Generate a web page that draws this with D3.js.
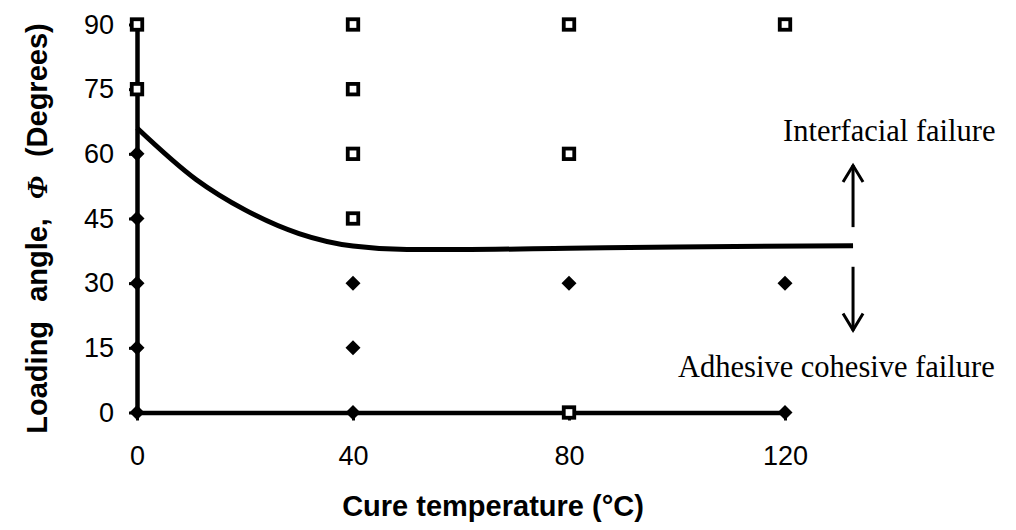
<!DOCTYPE html>
<html>
<head>
<meta charset="utf-8">
<script src="https://cdn.jsdelivr.net/npm/d3@7"></script>
<style>
  body { margin: 0; background: #fff; }
  svg { display: block; }
</style>
</head>
<body>
<div id="chart"></div>
<script>
// tick values
const xTicks = [0, 40, 80, 120];
const yTicks = [0, 15, 30, 45, 60, 75, 90];

// interfacial failure (open squares)
const interfacialTemp = [0, 0, 40, 40, 40, 40, 80, 80, 80, 120];
const interfacialAngle = [90, 75, 90, 75, 60, 45, 90, 60, 0, 90];

// adhesive cohesive failure (filled diamonds)
const cohesiveTemp = [0, 0, 0, 0, 0, 40, 40, 40, 80, 120, 120];
const cohesiveAngle = [60, 45, 30, 15, 0, 30, 15, 0, 30, 30, 0];

// transition boundary
const boundaryTemp = [0, 11, 20, 30, 40, 50, 60, 80, 100, 132.6];
const boundaryAngle = [66, 54, 47, 41.5, 38.6, 37.8, 37.8, 38.1, 38.4, 38.7];

function drawChart() {
  const width = 1016;
  const height = 530;

  const svg = d3
    .select("#chart")
    .append("svg")
    .attr("width", width)
    .attr("height", height);

  const x = d3.scaleLinear().domain([0, 120]).range([137, 785]);
  const y = d3.scaleLinear().domain([0, 90]).range([412.5, 24.5]);

  const tickFont = "'Liberation Sans', Arial, sans-serif";

  // y axis
  const yAxis = svg
    .append("g")
    .attr("transform", `translate(${x(0)},0)`)
    .call(
      d3.axisLeft(y).tickValues(yTicks).tickSize(8).tickSizeOuter(0).tickPadding(15)
    );

  // x axis
  const xAxis = svg
    .append("g")
    .attr("transform", `translate(0,${y(0)})`)
    .call(
      d3.axisBottom(x).tickValues(xTicks).tickSize(8).tickSizeOuter(0).tickPadding(25)
    );

  [xAxis, yAxis].forEach((g) => {
    g.select(".domain").attr("stroke", "#000").attr("stroke-width", 4.5);
    g.selectAll(".tick line").attr("stroke", "#000").attr("stroke-width", 3);
    g.selectAll(".tick text")
      .attr("fill", "#000")
      .style("font-family", tickFont)
      .style("font-size", "27px");
  });

  // boundary curve
  const line = d3
    .line()
    .x((d) => x(d[0]))
    .y((d) => y(d[1]))
    .curve(d3.curveMonotoneX);

  svg
    .append("path")
    .datum(boundaryTemp.map((t, i) => [t, boundaryAngle[i]]))
    .attr("fill", "none")
    .attr("stroke", "#000")
    .attr("stroke-width", 5)
    .attr("d", line);

  // diamonds
  svg
    .append("g")
    .selectAll("path")
    .data(cohesiveTemp.map((t, i) => [t, cohesiveAngle[i]]))
    .join("path")
    .attr("transform", (d) => `translate(${x(d[0])},${y(d[1])})`)
    .attr("d", "M0,-7.5L7.5,0L0,7.5L-7.5,0Z")
    .attr("fill", "#000");

  // squares
  svg
    .append("g")
    .selectAll("rect")
    .data(interfacialTemp.map((t, i) => [t, interfacialAngle[i]]))
    .join("rect")
    .attr("x", (d) => x(d[0]) - 5.25)
    .attr("y", (d) => y(d[1]) - 5.25)
    .attr("width", 10.5)
    .attr("height", 10.5)
    .attr("fill", "#fff")
    .attr("stroke", "#000")
    .attr("stroke-width", 3.8);

  // arrows
  const ax = x(132.6);
  const arrows = [
    { from: 43, to: 57.4 },
    { from: 33.8, to: 19 }
  ];
  arrows.forEach((a) => {
    const y0 = y(a.from);
    const y1 = y(a.to);
    const dir = y1 < y0 ? 1 : -1;
    svg
      .append("line")
      .attr("x1", ax)
      .attr("x2", ax)
      .attr("y1", y0)
      .attr("y2", y1)
      .attr("stroke", "#000")
      .attr("stroke-width", 3);
    svg
      .append("path")
      .attr("d", `M${ax - 10},${y1 + dir * 17}L${ax},${y1 + dir * 0.5}L${ax + 10},${y1 + dir * 17}`)
      .attr("fill", "none")
      .attr("stroke", "#000")
      .attr("stroke-width", 3);
  });

  const serif = "'Liberation Serif', 'Times New Roman', serif";
  svg
    .append("text")
    .attr("x", 783)
    .attr("y", 140.5)
    .style("font-family", serif)
    .style("font-size", "30.5px")
    .text("Interfacial failure");

  svg
    .append("text")
    .attr("x", 678)
    .attr("y", 377)
    .style("font-family", serif)
    .style("font-size", "30.5px")
    .text("Adhesive cohesive failure");

  // axis titles
  svg
    .append("text")
    .attr("x", 493)
    .attr("y", 516)
    .attr("text-anchor", "middle")
    .style("font-family", tickFont)
    .style("font-weight", "bold")
    .style("font-size", "29px")
    .text("Cure temperature (°C)");

  const yTitle = svg
    .append("text")
    .attr("transform", "translate(47,228.5) rotate(-90)")
    .attr("text-anchor", "middle")
    .style("font-family", tickFont)
    .style("font-weight", "bold")
    .style("font-size", "29px")
    .style("word-spacing", "11px");
  yTitle.append("tspan").text("Loading angle, ");
  yTitle
    .append("tspan")
    .style("font-family", serif)
    .style("font-style", "italic")
    .text("Φ");
  yTitle.append("tspan").text(" (Degrees)");
}

document.addEventListener("DOMContentLoaded", drawChart);
</script>
</body>
</html>
